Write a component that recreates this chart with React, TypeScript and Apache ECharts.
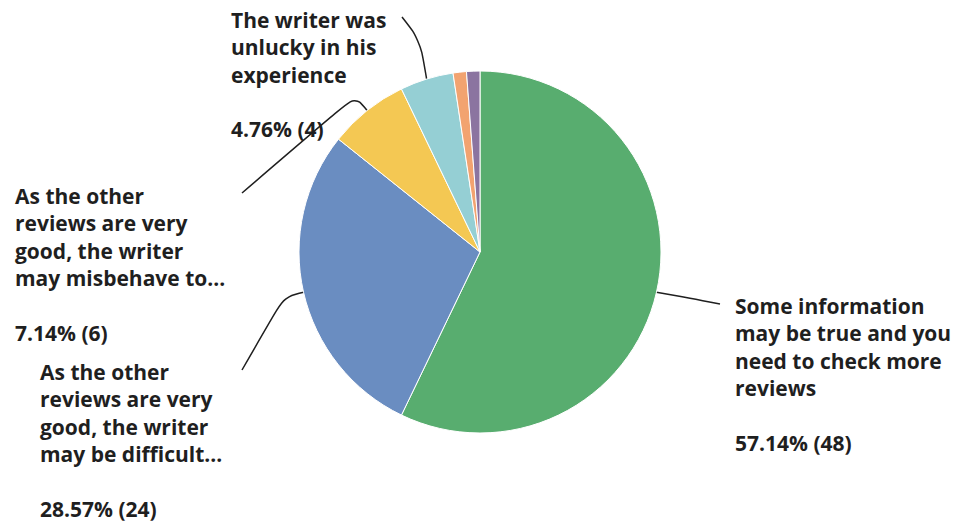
import React, { useEffect, useRef } from "react";
import * as echarts from "echarts";

const categories = [
  "Some information\nmay be true and you\nneed to check more\nreviews",
  "As the other\nreviews are very\ngood, the writer\nmay be difficult...",
  "As the other\nreviews are very\ngood, the writer\nmay misbehave to...",
  "The writer was\nunlucky in his\nexperience",
  "Other answer A",
  "Other answer B",
];
const counts = [48, 24, 6, 4, 1, 1];
const colors = ["#58ad6f", "#6a8dc1", "#f4c853", "#95cfd4", "#f2a370", "#8b74a0"];
const showLabel = [true, true, true, true, false, false];

// label placement (left, top) and label-line bend / end points
const labelPos: Array<[number, number] | null> = [
  [735, 292],
  [40, 358],
  [15, 182],
  [231, 6],
  null,
  null,
];
const lineKnee: Array<[number, number] | null> = [
  [690, 298],
  [284, 297],
  [355, 96],
  [420, 40],
  null,
  null,
];
const lineEnd: Array<[number, number] | null> = [
  [720, 304],
  [242, 370],
  [242, 193],
  [402, 17],
  null,
  null,
];

const CX = 480;
const CY = 252;
const R = 181;

export default function App() {
  const ref = useRef<HTMLDivElement>(null);
  useEffect(() => {
    if (!ref.current) return;
    const chart = echarts.init(ref.current, undefined, { renderer: "svg" });
    const total = counts.reduce((a, b) => a + b, 0);
    const starts: number[] = [];
    let acc = 0;
    counts.forEach((c) => {
      starts.push(acc);
      acc += c;
    });
    chart.setOption({
      animation: false,
      backgroundColor: "#ffffff",
      series: [
        {
          type: "pie",
          center: [CX, CY],
          radius: R,
          startAngle: 90,
          clockwise: true,
          avoidLabelOverlap: false,
          itemStyle: { borderColor: "#ffffff", borderWidth: 1 },
          label: {
            show: true,
            position: "outside",
            formatter: (p: any) =>
              `${p.name}\n\n${((p.value / total) * 100).toFixed(2)}% (${p.value})`,
            fontFamily: "'Open Sans', sans-serif",
            fontWeight: 700,
            fontSize: 21,
            lineHeight: 27.4,
            color: "#1f1f1f",
          },
          labelLine: {
            show: true,
            smooth: 0.35,
            lineStyle: { color: "#1f1f1f", width: 1.5 },
          },
          labelLayout: (params: any) => {
            const i = params.dataIndex;
            const pos = labelPos[i];
            if (!pos) return {};
            const mid = ((starts[i] + counts[i] / 2) / total) * Math.PI * 2;
            const start =
              params.labelLinePoints && params.labelLinePoints[0]
                ? params.labelLinePoints[0]
                : [CX + R * Math.sin(mid), CY - R * Math.cos(mid)];
            return {
              x: pos[0],
              y: pos[1],
              align: "left",
              verticalAlign: "top",
              labelLinePoints: [start, lineKnee[i], lineEnd[i]],
            };
          },
          data: categories.map((name, i) => ({
            name,
            value: counts[i],
            itemStyle: { color: colors[i] },
            label: { show: showLabel[i] },
            labelLine: { show: showLabel[i] },
          })),
        },
      ],
    });
    return () => chart.dispose();
  }, []);
  return (
    <div
      ref={ref}
      style={{ position: "absolute", left: 0, top: 0, width: 962, height: 523 }}
    />
  );
}
